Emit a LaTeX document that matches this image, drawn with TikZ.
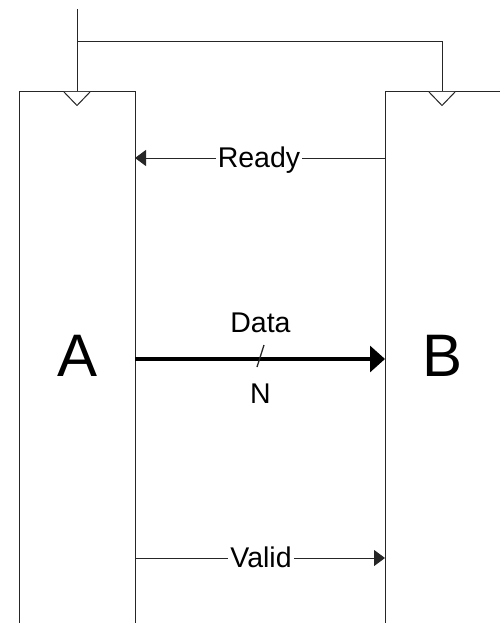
\documentclass[tikz,border=0pt]{standalone}
\usepackage{fontspec}
\setmainfont{Liberation Sans}
\usetikzlibrary{arrows.meta}
\begin{document}
\begin{tikzpicture}[x=1pt,y=-1pt,
  wire/.style={draw=black!85,line width=1pt},
  sig/.style={font=\fontsize{28.5}{34}\selectfont,anchor=base,inner sep=0pt},
  siglabel/.style={sig,fill=white,inner xsep=2pt,inner ysep=1pt},
  blocklabel/.style={font=\fontsize{60}{68}\selectfont,anchor=base,inner sep=0pt},
  clk/.style={wire,fill=white},
  thinhead/.style={-{Triangle[length=11pt,width=16pt]}}]
\useasboundingbox (0,0) rectangle (499,623);

% clock distribution
\coordinate (clkin) at (77,9);
\coordinate (clksplit) at (77,42);
\coordinate (clkturn) at (442,42);
\coordinate (clkA) at (77,92);
\coordinate (clkB) at (442,92);
\draw[wire] (clkin) -- (clkA);
\draw[wire] (clksplit) -- (clkturn) -- (clkB);

% block A (open at the bottom)
\draw[wire] (19.5,623) -- (19.5,92) -- (135,92) -- (135,623);
% block B (runs past the right edge)
\draw[wire] (385,623) -- (385,92) -- (500,92);

% clock input triangles
\draw[clk] (64,92) -- (clkA |- 0,105.5) -- (90,92);
\draw[clk] (429,92) -- (clkB |- 0,105.5) -- (455,92);

\node[blocklabel] (A) at (77.5,376) {A};
\node[blocklabel] (B) at (443,376) {B};

% port points on the block edges
\coordinate (readyB) at (385,158);
\coordinate (readyA) at (135,158);
\coordinate (dataA) at (135,359);
\coordinate (dataB) at (385,359);
\coordinate (validA) at (135,558);
\coordinate (validB) at (385,558);

% Ready: B -> A
\draw[wire,thinhead] (readyB) -- (readyA);
\node[siglabel] (ready) at (259,167) {Ready};

% Data bus: A -> B, N bits wide
\draw[draw=black,line width=3.2pt,-{Triangle[length=15pt,width=26pt]}] (dataA) -- (dataB);
\node[sig] (data) at (260.5,332) {Data};
\coordinate (slashtop) at (264,345);
\coordinate (slashbot) at (257,367);
\draw[wire,line width=1.3pt] (slashtop) -- (slashbot);
\node[sig] (width) at (260.5,403) {N};

% Valid: A -> B
\draw[wire,thinhead] (validA) -- (validB);
\node[siglabel] (valid) at (261,567.5) {Valid};
\end{tikzpicture}
\end{document}
